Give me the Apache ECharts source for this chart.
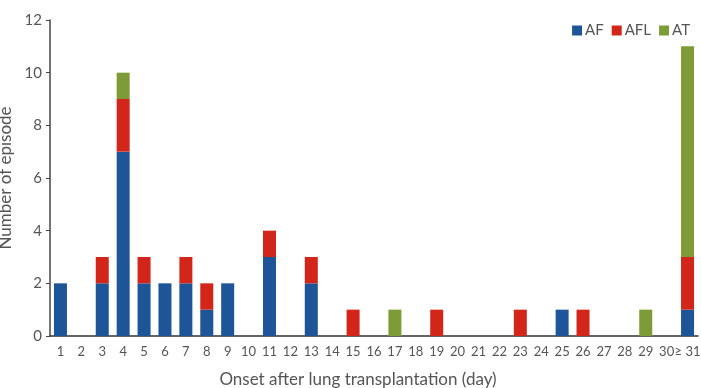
<!DOCTYPE html>
<html>
<head>
<meta charset="utf-8">
<script src="https://cdn.jsdelivr.net/npm/echarts@6/dist/echarts.min.js"></script>
<style>
  html, body { margin: 0; padding: 0; background: #fff; }
  #chart { width: 701px; height: 388px; }
</style>
</head>
<body>
<div id="chart"></div>
<script>
const days = ['1', '2', '3', '4', '5', '6', '7', '8', '9', '10', '11', '12', '13', '14', '15',
  '16', '17', '18', '19', '20', '21', '22', '23', '24', '25', '26', '27', '28', '29', '30', '≥ 31'];
const af  = [2, 0, 2, 7, 2, 2, 2, 1, 2, 0, 3, 0, 2, 0, 0, 0, 0, 0, 0, 0, 0, 0, 0, 0, 1, 0, 0, 0, 0, 0, 1];
const afl = [0, 0, 1, 2, 1, 0, 1, 1, 0, 0, 1, 0, 1, 0, 1, 0, 0, 0, 1, 0, 0, 0, 1, 0, 0, 1, 0, 0, 0, 0, 2];
const at  = [0, 0, 0, 1, 0, 0, 0, 0, 0, 0, 0, 0, 0, 0, 0, 0, 1, 0, 0, 0, 0, 0, 0, 0, 0, 0, 0, 0, 1, 0, 8];
const yTicks = [0, 2, 4, 6, 8, 10, 12];

const chart = echarts.init(document.getElementById('chart'));

const font = 'Lato, "Open Sans", sans-serif';

function bar(name, data, color) {
  return {
    name: name,
    type: 'bar',
    stack: 'total',
    data: data.map(v => (v === 0 ? null : v)),
    barWidth: 13,
    itemStyle: { color: color },
    emphasis: { disabled: true }
  };
}

chart.setOption({
  animation: false,
  textStyle: { fontFamily: font },
  legend: {
    right: 6,
    top: 18,
    itemWidth: 10,
    itemHeight: 10,
    itemGap: 8,
    icon: 'rect',
    textStyle: { fontFamily: font, fontSize: 15, color: '#555', padding: [0, 0, 0, -2] },
    data: ['AF', 'AFL', 'AT']
  },
  grid: { left: 50, right: 3, top: 20, bottom: 52, containLabel: false, outerBoundsMode: 'none' },
  xAxis: {
    type: 'category',
    data: days,
    name: 'Onset after lung transplantation (day)',
    nameLocation: 'middle',
    nameGap: 35,
    nameTextStyle: { fontFamily: font, fontSize: 17, color: '#555', padding: [0, 32, 0, 0] },
    axisLine: { lineStyle: { color: '#333', width: 1.5 } },
    axisTick: { show: false },
    axisLabel: { fontFamily: font, fontSize: 13, color: '#555', interval: 0, margin: 9 }
  },
  yAxis: {
    type: 'value',
    min: yTicks[0],
    max: yTicks[yTicks.length - 1],
    interval: 2,
    name: 'Number of episode',
    nameLocation: 'middle',
    nameGap: 32,
    nameTextStyle: { fontFamily: font, fontSize: 17, color: '#555' },
    axisLine: { show: true, lineStyle: { color: '#444', width: 1.5 } },
    axisTick: { show: true, length: 4, lineStyle: { color: '#444' } },
    splitLine: { show: false },
    axisLabel: { fontFamily: font, fontSize: 15, color: '#555', margin: 8 }
  },
  series: [
    bar('AF', af, '#1d5598'),
    bar('AFL', afl, '#d2261a'),
    bar('AT', at, '#7d9c37')
  ]
});
</script>
</body>
</html>
